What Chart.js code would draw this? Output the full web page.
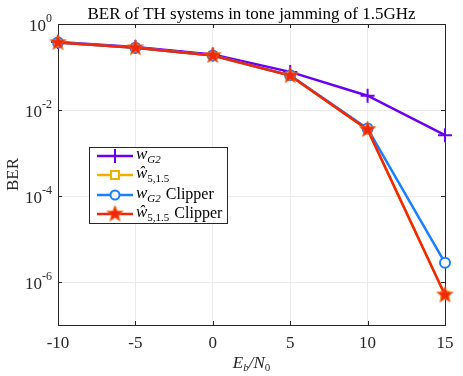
<!DOCTYPE html>
<html>
<head>
<meta charset="utf-8">
<script src="https://cdn.jsdelivr.net/npm/chart.js@4"></script>
<style>
  body { margin: 0; background: #fff; }
  #wrap { width: 463px; height: 376px; }
</style>
</head>
<body>
<div id="wrap"><canvas id="berChart" width="463" height="376"></canvas></div>
<script>
// Eb/N0 values (dB)
const ebn0 = [-10, -5, 0, 5, 10, 15];
// BER for each scheme
const berWG2 = [0.38, 0.29, 0.195, 0.077, 0.0215, 0.0026];
const berWHat = [0.37, 0.28, 0.185, 0.063, 0.0035, 5e-7];
const berWG2Clip = [0.37, 0.28, 0.185, 0.064, 0.0037, 2.8e-6];
const berWHatClip = [0.37, 0.28, 0.185, 0.063, 0.0035, 5e-7];
// axis ticks
const xTicks = [-10, -5, 0, 5, 10, 15];
const yTickExp = [0, -2, -4, -6];

const SERIF = '"Liberation Serif", "DejaVu Serif", serif';

// filled 5-point star marker
function makeStar(color, r) {
  const c = document.createElement('canvas');
  c.width = c.height = r * 2 + 2;
  const g = c.getContext('2d');
  const cx = r + 1, cy = r + 1;
  g.beginPath();
  for (let i = 0; i < 10; i++) {
    const rad = i % 2 === 0 ? r : r * 0.42;
    const a = -Math.PI / 2 + i * Math.PI / 5;
    const px = cx + rad * Math.cos(a), py = cy + rad * Math.sin(a);
    i === 0 ? g.moveTo(px, py) : g.lineTo(px, py);
  }
  g.closePath();
  g.fillStyle = color;
  g.fill();
  g.strokeStyle = '#f06a10';
  g.lineWidth = 0.8;
  g.stroke();
  return c;
}
const starImg = makeStar('#f2260a', 8.5);

const toPts = arr => ebn0.map((x, i) => ({ x: x, y: arr[i] }));

const series = [
  { name: 'wG2', data: berWG2, color: '#6a00f0', style: 'cross', r: 7, fill: '#6a00f0', order: 4 },
  { name: 'what', data: berWHat, color: '#f0b000', style: 'rect', r: 5, fill: '#fff', order: 3 },
  { name: 'wG2clip', data: berWG2Clip, color: '#1a7fff', style: 'circle', r: 5, fill: '#fff', order: 2 },
  { name: 'whatclip', data: berWHatClip, color: '#f2260a', style: starImg, r: 9, fill: '#f2260a', order: 1 }
];

// box, inward ticks
const axesPlugin = {
  id: 'matlabAxes',
  beforeDatasetsDraw(chart) {
    const { ctx, chartArea: a, scales } = chart;
    ctx.save();
    ctx.strokeStyle = '#262626';
    ctx.lineWidth = 1;
    ctx.strokeRect(a.left + 0.5, a.top + 0.5, a.right - a.left, a.bottom - a.top);
    ctx.beginPath();
    xTicks.forEach(v => {
      const px = Math.round(scales.x.getPixelForValue(v)) + 0.5;
      ctx.moveTo(px, a.bottom); ctx.lineTo(px, a.bottom - 4);
      ctx.moveTo(px, a.top); ctx.lineTo(px, a.top + 4);
    });
    yTickExp.forEach(e => {
      const py = Math.round(scales.y.getPixelForValue(Math.pow(10, e))) + 0.5;
      ctx.moveTo(a.left, py); ctx.lineTo(a.left + 4, py);
      ctx.moveTo(a.right, py); ctx.lineTo(a.right - 4, py);
    });
    ctx.stroke();
    ctx.restore();
  },
  afterDraw(chart) {
    const { ctx, chartArea: a, scales } = chart;
    ctx.save();
    // title
    ctx.font = '17px ' + SERIF;
    ctx.textAlign = 'center';
    ctx.textBaseline = 'alphabetic';
    ctx.fillStyle = '#000';
    ctx.fillText('BER of TH systems in tone jamming of 1.5GHz', (a.left + a.right) / 2, 19);
    ctx.fillStyle = '#262626';
    // x tick labels
    ctx.font = '17px ' + SERIF;
    xTicks.forEach(v => {
      ctx.fillText(String(v), scales.x.getPixelForValue(v), a.bottom + 23);
    });
    // x axis label Eb/N0
    const xl = (a.left + a.right) / 2;
    const yl = a.bottom + 43;
    ctx.textAlign = 'left';
    let w = 0;
    const parts = [['E', 17, 0], ['b', 11, 3], ['/N', 17, 0], ['0', 11, 3]];
    const pf = p => (p[0] === '0' ? '' : 'italic ') + p[1] + 'px ' + SERIF;
    parts.forEach(p => { ctx.font = pf(p); w += ctx.measureText(p[0]).width; });
    let cx = xl - w / 2;
    parts.forEach(p => {
      ctx.font = pf(p);
      ctx.fillText(p[0], cx, yl + p[2]);
      cx += ctx.measureText(p[0]).width;
    });
    // y tick labels 10^e
    yTickExp.forEach(e => {
      const py = scales.y.getPixelForValue(Math.pow(10, e));
      ctx.font = '12px ' + SERIF;
      const sup = e === 0 ? '0' : '-' + Math.abs(e);
      const sw = ctx.measureText(sup).width;
      ctx.textAlign = 'left';
      ctx.fillText(sup, a.left - 6 - sw, py - 2);
      ctx.font = '17px ' + SERIF;
      ctx.textAlign = 'right';
      ctx.fillText('10', a.left - 6 - sw, py + 7);
    });
    // y axis label
    ctx.save();
    ctx.translate(18, (a.top + a.bottom) / 2);
    ctx.rotate(-Math.PI / 2);
    ctx.textAlign = 'center';
    ctx.font = '17px ' + SERIF;
    ctx.fillText('BER', 0, 0);
    ctx.restore();

    // legend
    const lx = 89, ly = 147, lw = 138, lh = 76;
    ctx.fillStyle = '#fff';
    ctx.fillRect(lx, ly, lw, lh);
    ctx.strokeStyle = '#262626';
    ctx.lineWidth = 1;
    ctx.strokeRect(lx + 0.5, ly + 0.5, lw, lh);
    const rowsY = [156, 175, 195, 214];
    series.forEach((s, i) => {
      const ry = rowsY[i];
      ctx.strokeStyle = s.color;
      ctx.lineWidth = 2.5;
      ctx.beginPath(); ctx.moveTo(97, ry); ctx.lineTo(133, ry); ctx.stroke();
      drawMarker(ctx, s, 115, ry);
      ctx.fillStyle = '#000';
      ctx.textAlign = 'left';
      let tx = 136;
      const hat = s.name.startsWith('what');
      ctx.font = 'italic 17px ' + SERIF;
      const base = hat ? 'ŵ' : 'w';
      ctx.fillText(base, tx, ry + 3);
      tx += ctx.measureText(base).width;
      ctx.font = (hat ? '' : 'italic ') + '11px ' + SERIF;
      const sub = hat ? '5,1.5' : 'G2';
      ctx.fillText(sub, tx, ry + 7);
      tx += ctx.measureText(sub).width;
      if (s.name.endsWith('clip')) {
        ctx.font = '16px ' + SERIF;
        ctx.fillText('Clipper', tx + 5, ry + 4);
      }
    });
    ctx.restore();
  }
};

function drawMarker(ctx, s, x, y) {
  ctx.save();
  ctx.strokeStyle = s.color;
  ctx.lineWidth = 2;
  if (s.style === 'cross') {
    ctx.beginPath();
    ctx.moveTo(x - s.r, y); ctx.lineTo(x + s.r, y);
    ctx.moveTo(x, y - s.r); ctx.lineTo(x, y + s.r);
    ctx.stroke();
  } else if (s.style === 'rect') {
    ctx.fillStyle = s.fill;
    ctx.fillRect(x - 4, y - 4, 8, 8);
    ctx.strokeRect(x - 4, y - 4, 8, 8);
  } else if (s.style === 'circle') {
    ctx.fillStyle = s.fill;
    ctx.beginPath(); ctx.arc(x, y, 4.5, 0, Math.PI * 2); ctx.fill(); ctx.stroke();
  } else {
    ctx.drawImage(s.style, x - s.style.width / 2, y - s.style.height / 2);
  }
  ctx.restore();
}

new Chart(document.getElementById('berChart'), {
  type: 'line',
  data: {
    datasets: series.map(s => ({
      label: s.name,
      data: toPts(s.data),
      borderColor: s.color,
      backgroundColor: s.fill,
      borderWidth: 2.5,
      pointStyle: s.style,
      pointRadius: s.r,
      pointBorderColor: s.color,
      pointBackgroundColor: s.fill,
      pointBorderWidth: 2,
      tension: 0,
      order: s.order,
      clip: false
    }))
  },
  options: {
    responsive: false,
    animation: false,
    events: [],
    layout: { padding: { left: 58, top: 24, right: 18, bottom: 51 } },
    plugins: { legend: { display: false }, tooltip: { enabled: false }, title: { display: false } },
    scales: {
      x: {
        type: 'linear',
        min: -10, max: 15,
        afterBuildTicks: axis => { axis.ticks = xTicks.map(v => ({ value: v })); },
        afterFit: axis => { axis.height = 0; },
        ticks: { display: false },
        grid: { color: '#ebebeb', lineWidth: 1, drawTicks: false },
        border: { display: false }
      },
      y: {
        type: 'logarithmic',
        min: 1e-7, max: 1,
        afterBuildTicks: axis => { axis.ticks = yTickExp.map(e => ({ value: Math.pow(10, e) })); },
        afterFit: axis => { axis.width = 0; },
        ticks: { display: false },
        grid: { color: '#ebebeb', lineWidth: 1, drawTicks: false },
        border: { display: false }
      }
    }
  },
  plugins: [axesPlugin]
});
</script>
</body>
</html>
